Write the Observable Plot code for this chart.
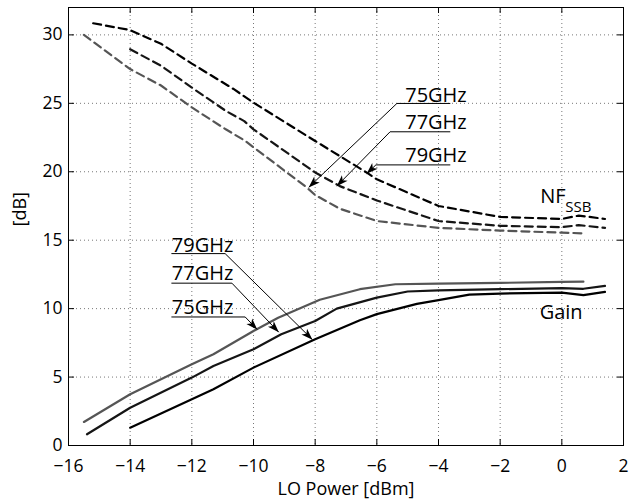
<!DOCTYPE html>
<html><head><meta charset="utf-8">
<script src="https://cdn.jsdelivr.net/npm/d3@7"></script>
<script src="https://cdn.jsdelivr.net/npm/@observablehq/plot@0.6"></script>
<style>body{margin:0;background:#fff;} svg{display:block;}</style>
</head><body><div id="chart"></div>
<script>
// ---- axes ----
const xTicks = [-16, -14, -12, -10, -8, -6, -4, -2, 0, 2];
const yTicks = [0, 5, 10, 15, 20, 25, 30];
const xLabel = "LO Power [dBm]";
const yLabel = "[dB]";

// ---- series: NF_SSB (dashed) ----
const nf75X = [-15.5, -14, -13, -12, -10.9, -10.3, -8.3, -8, -7.2, -6, -4, -2, 0, 0.7];
const nf75Y = [30.0, 27.5, 26.3, 24.7, 23.1, 22.3, 18.9, 18.3, 17.3, 16.4, 15.9, 15.7, 15.55, 15.5];
const nf77X = [-14, -13, -12, -10.9, -10.3, -10, -8, -7.2, -6, -4, -2, 0, 0.55, 1.4];
const nf77Y = [28.95, 27.75, 26.15, 24.45, 23.7, 23.1, 19.95, 18.95, 17.9, 16.4, 16.05, 15.95, 16.1, 15.9];
const nf79X = [-15.2, -14, -13, -12, -10.65, -10, -8, -6.3, -6, -4, -2, 0, 0.55, 1.4];
const nf79Y = [30.85, 30.35, 29.35, 27.9, 26.05, 25.05, 22.25, 19.9, 19.45, 17.5, 16.7, 16.55, 16.8, 16.55];

// ---- series: Gain (solid) ----
const gain75X = [-15.5, -14, -12, -11.3, -10, -9.2, -7.85, -6.55, -5.4, -4, -2, 0, 0.7];
const gain75Y = [1.72, 3.74, 5.93, 6.67, 8.37, 9.34, 10.65, 11.42, 11.78, 11.83, 11.88, 11.95, 11.97];
const gain77X = [-15.4, -14, -12, -11.3, -10, -9.1, -8, -7.3, -6, -5, -4, -2, 0, 0.7, 1.4];
const gain77Y = [0.82, 2.76, 4.96, 5.81, 7.03, 8.13, 9.1, 10.0, 10.8, 11.25, 11.34, 11.42, 11.5, 11.45, 11.66];
const gain79X = [-14, -12, -11.3, -10, -8, -6.55, -6, -4.7, -4, -3, -2, 0, 0.7, 1.4];
const gain79Y = [1.3, 3.38, 4.11, 5.69, 7.76, 9.15, 9.6, 10.35, 10.62, 11.02, 11.1, 11.17, 10.98, 11.22];

const freqs = ["75GHz", "77GHz", "79GHz"];
const freqColors = ["#555555", "#151515", "#000000"];

// ---- annotations (data units) ----
const nfNoteText = ["75GHz", "77GHz", "79GHz"];
const nfNoteTextX = [-5.08, -5.08, -5.08];
const nfNoteTextY = [25.11, 23.11, 20.72];
const nfNoteUnderEndX = [-3.63, -3.63, -3.63];
const nfNoteCornerX = [-5.35, -5.57, -6.03];
const nfNoteCornerY = [24.99, 22.92, 20.5];
const nfNoteTipX = [-8.2, -7.29, -6.32];
const nfNoteTipY = [18.88, 18.97, 19.88];

const gainNoteText = ["79GHz", "77GHz", "75GHz"];
const gainNoteTextX = [-12.65, -12.65, -12.65];
const gainNoteTextY = [14.17, 12.08, 9.63];
const gainNoteUnderY = [14.02, 11.86, 9.39];
const gainNoteCornerX = [-10.92, -10.7, -10.27];
const gainNoteTipX = [-8.1, -9.19, -9.89];
const gainNoteTipY = [7.76, 8.3, 8.5];

const nfTitle = "NF", nfSub = "SSB", nfTitleX = -0.7, nfTitleY = 17.75, nfSubX = 0.11, nfSubY = 17.09;
const gainTitle = "Gain", gainTitleX = -0.72, gainTitleY = 9.21;

// ---- build tables ----
const toRows = (xs, ys) => xs.map((x, i) => ({x, y: ys[i]}));
const nfSeries = [toRows(nf75X, nf75Y), toRows(nf77X, nf77Y), toRows(nf79X, nf79Y)];
const gainSeries = [toRows(gain75X, gain75Y), toRows(gain77X, gain77Y), toRows(gain79X, gain79Y)];

const notePaths = [];
nfNoteText.forEach((t, i) => {
  notePaths.push({g: "nf" + i, x: nfNoteUnderEndX[i], y: nfNoteCornerY[i]});
  notePaths.push({g: "nf" + i, x: nfNoteCornerX[i], y: nfNoteCornerY[i]});
  notePaths.push({g: "nf" + i, x: nfNoteTipX[i], y: nfNoteTipY[i]});
});
gainNoteText.forEach((t, i) => {
  notePaths.push({g: "gn" + i, x: gainNoteTextX[i], y: gainNoteUnderY[i]});
  notePaths.push({g: "gn" + i, x: gainNoteCornerX[i], y: gainNoteUnderY[i]});
  notePaths.push({g: "gn" + i, x: gainNoteTipX[i], y: gainNoteTipY[i]});
});
const noteTexts = [
  ...nfNoteText.map((t, i) => ({t, x: nfNoteTextX[i], y: nfNoteTextY[i]})),
  ...gainNoteText.map((t, i) => ({t, x: gainNoteTextX[i], y: gainNoteTextY[i]}))
];

function headMarker(color) {
  const m = d3.create("svg:marker")
    .attr("viewBox", "-12 -5 13 10")
    .attr("markerWidth", 13).attr("markerHeight", 10)
    .attr("markerUnits", "userSpaceOnUse")
    .attr("refX", 0).attr("refY", 0)
    .attr("orient", "auto")
    .attr("fill", color).attr("stroke", "none");
  m.append("path").attr("d", "M0.5,0L-11,-4L-8,0L-11,4Z");
  return m.node();
}
let noteLine;
try {
  noteLine = Plot.line(notePaths, {x: "x", y: "y", z: "g", stroke: "black", strokeWidth: 1, markerEnd: headMarker});
} catch (e) {
  noteLine = Plot.line(notePaths, {x: "x", y: "y", z: "g", stroke: "black", strokeWidth: 1, markerEnd: "arrow"});
}

const W = 639, H = 501, mL = 68, mR = 16, mT = 7, mB = 56;
const pw = W - mL - mR, ph = H - mT - mB, tl = 6;
const font = "'Open Sans', sans-serif";

const marks = [
  Plot.gridX(xTicks, {stroke: "#777", strokeOpacity: 1, strokeDasharray: "1,3"}),
  Plot.gridY(yTicks, {stroke: "#777", strokeOpacity: 1, strokeDasharray: "1,3"}),
];
nfSeries.forEach((rows, i) => marks.push(Plot.line(rows, {x: "x", y: "y", stroke: freqColors[i], strokeWidth: 2.2, strokeDasharray: "8,5"})));
gainSeries.forEach((rows, i) => marks.push(Plot.line(rows, {x: "x", y: "y", stroke: freqColors[i], strokeWidth: 2.2})));
marks.push(
  noteLine,
  Plot.text(noteTexts, {x: "x", y: "y", text: "t", textAnchor: "start", lineAnchor: "bottom", fontSize: 20, fill: "black"}),
  Plot.text([nfTitle], {x: () => nfTitleX, y: () => nfTitleY, textAnchor: "start", lineAnchor: "bottom", fontSize: 20, fill: "black"}),
  Plot.text([nfSub], {x: () => nfSubX, y: () => nfSubY, textAnchor: "start", lineAnchor: "bottom", fontSize: 15, fill: "black"}),
  Plot.text([gainTitle], {x: () => gainTitleX, y: () => gainTitleY, textAnchor: "start", lineAnchor: "bottom", fontSize: 20, fill: "black"}),
  Plot.frame({stroke: "black", strokeWidth: 1}),
  Plot.tickX(xTicks, {x: d => d, insetTop: ph - tl, stroke: "black"}),
  Plot.tickX(xTicks, {x: d => d, insetBottom: ph - tl, stroke: "black"}),
  Plot.tickY(yTicks, {y: d => d, insetRight: pw - tl, stroke: "black"}),
  Plot.tickY(yTicks, {y: d => d, insetLeft: pw - tl, stroke: "black"}),
  Plot.axisX(xTicks, {tickSize: 0, tickPadding: 14, fontSize: 17.5, label: null}),
  Plot.axisY(yTicks, {tickSize: 0, tickPadding: 6, fontSize: 17.5, label: null}),
  Plot.text([xLabel], {frameAnchor: "bottom", dy: 49, lineAnchor: "bottom", fontSize: 18, fill: "black"}),
  Plot.text([yLabel], {frameAnchor: "left", dx: -48, rotate: -90, fontSize: 18, fill: "black"})
);

const chart = Plot.plot({
  width: W, height: H, marginLeft: mL, marginRight: mR, marginTop: mT, marginBottom: mB,
  x: {domain: [-16, 2]},
  y: {domain: [0, 32]},
  style: {fontFamily: font, background: "white", color: "black"},
  marks
});
document.getElementById("chart").append(chart);
</script>
</body></html>
